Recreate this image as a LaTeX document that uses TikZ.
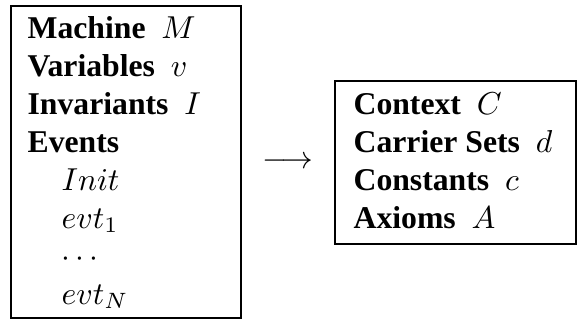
\documentclass[tikz,border=0pt]{standalone}
\usepackage[no-math]{fontspec}
\setmainfont{Liberation Serif}
\begin{document}
\begin{tikzpicture}[x=0.3155pt,y=-0.3155pt,
  txt/.style={anchor=base west,inner sep=0pt,font=\fontsize{10pt}{12pt}\selectfont},
  frame/.style={draw=black,line width=0.5pt}]
\useasboundingbox (0,0) rectangle (577,321);
% left box
\draw[frame] (11,6) rectangle (241,318);
\node[txt] (m1) at (27,38)  {\textbf{Machine}\ \ $M$};
\node[txt] (m2) at (27,76)  {\textbf{Variables}\ \ $v$};
\node[txt] (m3) at (27,114) {\textbf{Invariants}\ \ $I$};
\node[txt] (m4) at (27,152) {\textbf{Events}};
\node[txt] (m5) at (61,190) {$Init$};
\node[txt] (m6) at (61,228) {$evt_1$};
\node[txt] (m7) at (61,266) {$\cdots$};
\node[txt] (m8) at (61,304) {$evt_N$};
% arrow
\node[inner sep=0pt,font=\fontsize{10pt}{12pt}\selectfont] (arr) at (288,163) {$\longrightarrow$};
% right box
\draw[frame] (335,81) rectangle (576,244);
\node[txt] (c1) at (353,114) {\textbf{Context}\ \ $C$};
\node[txt] (c2) at (353,152) {\textbf{Carrier Sets}\ \ $d$};
\node[txt] (c3) at (353,190) {\textbf{Constants}\ \ $c$};
\node[txt] (c4) at (353,228) {\textbf{Axioms}\ \ $A$};
\end{tikzpicture}
\end{document}
